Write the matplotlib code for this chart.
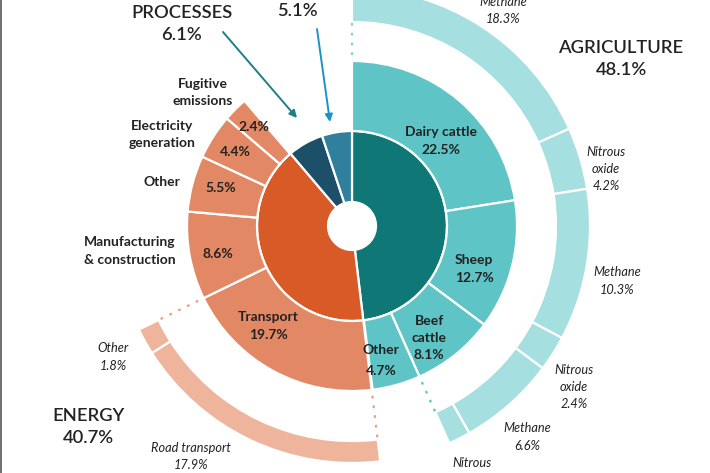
import matplotlib
matplotlib.use('Agg')
import matplotlib.pyplot as plt
from matplotlib.lines import Line2D
import numpy as np

# ---------------- data ----------------
sectors = ['Agriculture', 'Energy', 'Industrial processes', 'Waste']
sector_pct = [48.1, 40.7, 6.1, 5.1]

agri_sub = ['Dairy cattle', 'Sheep', 'Beef cattle', 'Other']
agri_sub_pct = [22.5, 12.7, 8.1, 4.7]

energy_sub = ['Transport', 'Manufacturing & construction', 'Other',
              'Electricity generation', 'Fugitive emissions']
energy_sub_pct = [19.7, 8.6, 5.5, 4.4, 2.4]

agri_gas = ['Methane', 'Nitrous oxide', 'Methane', 'Nitrous oxide', 'Methane', 'Nitrous oxide']
agri_gas_pct = [18.3, 4.2, 10.3, 2.4, 6.6, 1.5]

transport_sub = ['Road transport', 'Other']
transport_sub_pct = [17.9, 1.8]

# ---------------- style ----------------
W, H = 710, 473
plt.rcParams['font.family'] = ['Lato', 'DejaVu Sans']
TXT = '#222222'

TEAL_D, TEAL_M, TEAL_L = '#0f7775', '#5ec4c6', '#a6dfe0'
ORG_D, ORG_M, ORG_L = '#d85a27', '#e38864', '#efb59c'
NAVY, BLUE = '#1c4f68', '#307f9c'

fig = plt.figure(figsize=(W / 100, H / 100), dpi=100)
ax = fig.add_axes([0, 0, 1, 1])


def py(y):
    return H - y


CX, CY = 352, py(226)
R_HOLE, R_IN, R_MID = 24, 95, 165
R_OA_OUT, R_OA_W = 238, 34
R_OE_OUT, R_OE_W = 237, 22
EDGE = dict(edgecolor='white', linewidth=1.6)

# inner ring: sectors
ax.pie(sector_pct, radius=R_IN, center=(CX, CY), startangle=90, counterclock=False,
       colors=[TEAL_D, ORG_D, NAVY, BLUE],
       wedgeprops=dict(width=R_IN - R_HOLE, **EDGE))

# middle ring: sub-sectors of agriculture and energy
mid_vals = (agri_sub_pct + [sector_pct[0] - sum(agri_sub_pct)]
            + energy_sub_pct + [sector_pct[1] - sum(energy_sub_pct)]
            + [sector_pct[2] + sector_pct[3]])
mid_cols = [TEAL_M] * 4 + ['none'] + [ORG_M] * 5 + ['none', 'none']
wm, _ = ax.pie(mid_vals, radius=R_MID, center=(CX, CY), startangle=90, counterclock=False,
               colors=mid_cols, wedgeprops=dict(width=R_MID - R_IN, **EDGE))
for w, c in zip(wm, mid_cols):
    if c == 'none':
        w.set_visible(False)

# outer ring: agriculture gases
oa_vals = agri_gas_pct + [100 - sum(agri_gas_pct)]
wa, _ = ax.pie(oa_vals, radius=R_OA_OUT, center=(CX, CY), startangle=90, counterclock=False,
               colors=[TEAL_L] * len(agri_gas_pct) + ['none'],
               wedgeprops=dict(width=R_OA_W, **EDGE))
wa[-1].set_visible(False)

# outer ring: transport breakdown
oe_vals = [sector_pct[0]] + transport_sub_pct + [100 - sector_pct[0] - sum(transport_sub_pct)]
we, _ = ax.pie(oe_vals, radius=R_OE_OUT, center=(CX, CY), startangle=90, counterclock=False,
               colors=['none', ORG_L, ORG_L, 'none'],
               wedgeprops=dict(width=R_OE_W, **EDGE))
we[0].set_visible(False)
we[-1].set_visible(False)


# dotted connectors at boundaries of expanded segments
def connector(pct, r0, r1, color):
    th = np.deg2rad(pct * 3.6)
    r = np.array([r0, r1])
    ax.plot(CX + r * np.sin(th), CY + r * np.cos(th), color=color, lw=1.6,
            linestyle=(0, (1.2, 3.2)), solid_capstyle='butt')


connector(0, R_MID + 6, R_OA_OUT - R_OA_W - 1, '#7fd0d2')
connector(sum(agri_gas_pct), R_MID + 6, R_OA_OUT - R_OA_W - 1, TEAL_M)
connector(sector_pct[0], R_MID + 6, R_OE_OUT - R_OE_W - 2, '#ec9c80')
connector(sector_pct[0] + energy_sub_pct[0], R_MID + 6, R_OE_OUT - R_OE_W - 2, '#ec9c80')

ax.set_xlim(0, W)
ax.set_ylim(0, H)
ax.set_aspect('equal')
ax.axis('off')


# ---------------- text ----------------
def block(lines, x, y0, pitch, size, weight='normal', style='normal', color=TXT):
    for i, s in enumerate(lines):
        ax.text(x, py(y0 + i * pitch), s, ha='center', va='center', fontsize=size,
                fontweight=weight, fontstyle=style, color=color)


LBL = 10
SW = 'bold'
block(['Dairy cattle', f'{agri_sub_pct[0]}%'], 441, 132, 18, LBL, SW)
block(['Sheep', f'{agri_sub_pct[1]}%'], 474, 260, 18, LBL, SW)
block(['Beef', 'cattle', f'{agri_sub_pct[2]}%'], 429, 321, 17, LBL, SW)
block(['Other', f'{agri_sub_pct[3]}%'], 381, 350, 21, LBL, SW)
block(['Transport', f'{energy_sub_pct[0]}%'], 268, 317, 18, LBL, SW)

block([f'{energy_sub_pct[1]}%'], 218, 254, 18, LBL, SW)
block([f'{energy_sub_pct[2]}%'], 221, 188, 18, LBL, SW)
block([f'{energy_sub_pct[3]}%'], 235, 152, 18, LBL, SW)
block([f'{energy_sub_pct[4]}%'], 254, 127, 18, LBL, SW)

block(['Manufacturing', '& construction'], 130, 242, 18, LBL, SW)
block(['Other'], 162, 182, 18, LBL, SW)
block(['Electricity', 'generation'], 162, 126, 17, LBL, SW)
block(['Fugitive', 'emissions'], 203, 84, 17, LBL, SW)

IT = 9.2
block(['Methane', f'{agri_gas_pct[0]}%'], 503, 2, 17, IT, style='italic')
block(['Nitrous', 'oxide', f'{agri_gas_pct[1]}%'], 606, 152, 17, IT, style='italic')
block(['Methane', f'{agri_gas_pct[2]}%'], 617, 272, 18, IT, style='italic')
block(['Nitrous', 'oxide', f'{agri_gas_pct[3]}%'], 574, 370, 17, IT, style='italic')
block(['Methane', f'{agri_gas_pct[4]}%'], 527, 428, 18, IT, style='italic')
block(['Nitrous', 'oxide', f'{agri_gas_pct[5]}%'], 472, 463, 17, IT, style='italic')
block(['Other', f'{transport_sub_pct[1]}%'], 113, 348, 18, IT, style='italic')
block(['Road transport', f'{transport_sub_pct[0]}%'], 191, 448, 17, IT, style='italic')

HD = 13.2
HW = 'semibold'
block(['AGRICULTURE', f'{sector_pct[0]}%'], 621, 48, 22, HD, HW)
block(['ENERGY', f'{sector_pct[1]}%'], 88, 416, 22, HD, HW)
block(['INDUSTRIAL', 'PROCESSES', f'{sector_pct[2]}%'], 182, -9, 22, HD, HW)
block(['WASTE', f'{sector_pct[3]}%'], 297, -11, 22, HD, HW)

ax.annotate('', xy=(297, py(118)), xytext=(223, py(32)),
            arrowprops=dict(arrowstyle='-|>', color='#1f7f87', lw=1.4, mutation_scale=11,
                            shrinkA=0, shrinkB=0))
ax.annotate('', xy=(330, py(122)), xytext=(317, py(29)),
            arrowprops=dict(arrowstyle='-|>', color='#1b93c9', lw=1.4, mutation_scale=11,
                            shrinkA=0, shrinkB=0))

# thin frame edge on the left, as in the reference crop
fig.add_artist(Line2D([0.0012, 0.0012], [0, 1], transform=fig.transFigure,
                      color='#555555', lw=1.2))

fig.savefig('out.png', dpi=100)
